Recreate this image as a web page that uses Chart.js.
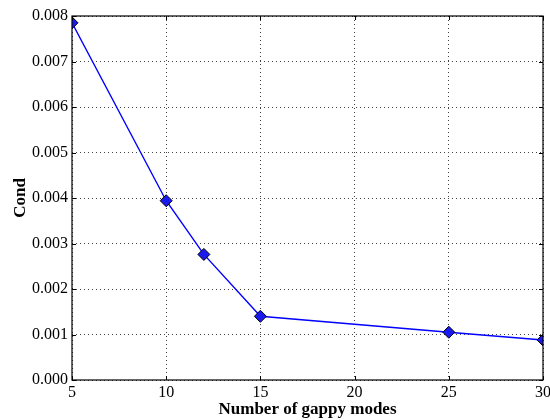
<!DOCTYPE html>
<html>
<head>
<meta charset="utf-8">
<script src="https://cdn.jsdelivr.net/npm/chart.js@4"></script>
<style>
html,body{margin:0;padding:0;background:#fff}
#wrap{width:550px;height:420px}
</style>
</head>
<body>
<div id="wrap"><canvas id="c" width="550" height="420"></canvas></div>
<script>
const modes=[5,10,12,15,25,30]
const cond=[0.00785,0.00394,0.00276,0.00140,0.00105,0.00088]
const xTicks=[5,10,15,20,25,30]
const yTicks=[0,0.001,0.002,0.003,0.004,0.005,0.006,0.007,0.008]

const serif="'Liberation Serif','DejaVu Serif',serif"

// frame round the plot area plus short inward tick marks
const frame={
id:"frame",
afterDatasetsDraw(chart){
const {ctx,chartArea:a,scales:{x,y}}=chart
ctx.save()
ctx.strokeStyle="#000"
ctx.lineWidth=1
ctx.beginPath()
xTicks.forEach(v=>{
const px=Math.round(x.getPixelForValue(v))+0.5
ctx.moveTo(px,a.bottom);ctx.lineTo(px,a.bottom-4)
ctx.moveTo(px,a.top);ctx.lineTo(px,a.top+4)
})
yTicks.forEach(v=>{
const py=Math.round(y.getPixelForValue(v))+0.5
ctx.moveTo(a.left,py);ctx.lineTo(a.left+4,py)
ctx.moveTo(a.right,py);ctx.lineTo(a.right-4,py)
})
ctx.stroke()
ctx.lineWidth=1.2
ctx.strokeRect(a.left,a.top,a.right-a.left,a.bottom-a.top)
ctx.restore()
}
}

new Chart(document.getElementById("c"),{
type:"line",
data:{datasets:[{
data:modes.map((m,i)=>({x:m,y:cond[i]})),
borderColor:"#0000ff",
borderWidth:1.4,
backgroundColor:"#1a1aee",
pointStyle:"rectRot",
pointRadius:6,
pointBorderColor:"#000",
pointBorderWidth:1,
tension:0
}]},
options:{
responsive:false,
animation:false,
layout:{padding:{top:16,right:5,left:0,bottom:0}},
plugins:{legend:{display:false},tooltip:{enabled:false}},
scales:{
x:{
type:"linear",min:5,max:30,
afterBuildTicks:s=>{s.ticks=xTicks.map(v=>({value:v}))},
afterFit:s=>{s.height=40;s.paddingLeft=0;s.paddingRight=0},
grid:{color:"#444",lineWidth:1,drawTicks:false},
border:{display:false,dash:[1,3]},
ticks:{color:"#000",padding:3,font:{family:serif,size:16},maxRotation:0},
title:{display:true,text:"Number of gappy modes",color:"#000",padding:{top:-3,bottom:0},font:{family:serif,size:17,weight:"bold"}}
},
y:{
min:0,max:0.008,
afterBuildTicks:s=>{s.ticks=yTicks.map(v=>({value:v}))},
afterFit:s=>{s.width=72;s.paddingTop=0;s.paddingBottom=0},
grid:{color:"#444",lineWidth:1,drawTicks:false},
border:{display:false,dash:[1,3]},
ticks:{color:"#000",padding:4,font:{family:serif,size:16},callback:v=>v.toFixed(3)},
title:{display:true,text:"Cond",color:"#000",padding:{top:10,bottom:0},font:{family:serif,size:17,weight:"bold"}}
}
}
},
plugins:[frame]
})
</script>
</body>
</html>
